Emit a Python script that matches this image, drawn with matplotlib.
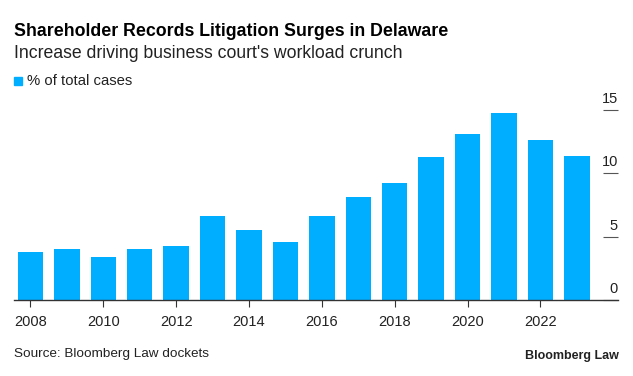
import matplotlib
matplotlib.use("Agg")
import matplotlib.pyplot as plt
import matplotlib.transforms as mtransforms
import numpy as np

# data
years = [2008, 2009, 2010, 2011, 2012, 2013, 2014, 2015,
         2016, 2017, 2018, 2019, 2020, 2021, 2022, 2023]
pct_cases = [3.8, 4.0, 3.4, 4.0, 4.3, 6.6, 5.5, 4.6,
             6.6, 8.1, 9.2, 11.3, 13.1, 14.8, 12.6, 11.4]
x_ticks = [2008, 2010, 2012, 2014, 2016, 2018, 2020, 2022]
y_ticks = [0, 5, 10, 15]

plt.rcParams['font.family'] = ['Liberation Sans', 'DejaVu Sans']
blue = '#00AEFF'
dark = '#222222'

W, H = 633, 376
fig = plt.figure(figsize=(W / 100, H / 100), dpi=100)
fig.patch.set_facecolor('white')

# axes box in pixel coords
left, right, top, bottom = 14, 618, 110, 300
ax = fig.add_axes([left / W, 1 - bottom / H, (right - left) / W, (bottom - top) / H])

ax.bar(years, pct_cases, width=0.7, color=blue, zorder=2)
ax.set_xlim(2007.55, 2024.13)
ax.set_ylim(0, 15)

for s in ['top', 'left', 'right']:
    ax.spines[s].set_visible(False)
ax.spines['bottom'].set_color('#333333')
ax.spines['bottom'].set_linewidth(1.0)
ax.spines['bottom'].set_zorder(3)

ax.set_xticks(x_ticks)
ax.set_xticklabels([str(y) for y in x_ticks])
ax.tick_params(axis='x', length=5, width=0.8, color='#333333', pad=6,
               labelsize=10.5, labelcolor=dark)

# y ticks on the right: short lines with the number sitting above them
ax.yaxis.tick_right()
ax.set_yticks(y_ticks)
ax.set_yticklabels([])
ax.tick_params(axis='y', direction='in', length=11, width=0.8, color='#555555')
trans = mtransforms.blended_transform_factory(ax.transAxes, ax.transData)
shift = mtransforms.ScaledTranslation(0, 4 / 100, fig.dpi_scale_trans)
for v in y_ticks:
    t = ax.text(1.0, v, str(v), ha='right', va='bottom',
                fontsize=10.5, color=dark, transform=trans + shift)
    t.set_clip_on(False)

# titles
fig.text(14 / W, 1 - 32 / H, 'Shareholder Records Litigation Surges in Delaware',
         fontsize=12.8, fontweight='bold', color='black', va='center', ha='left')
fig.text(14 / W, 1 - 53 / H, "Increase driving business court's workload crunch",
         fontsize=12.7, color=dark, va='center', ha='left')

# legend
fig.patches.append(plt.Rectangle((14 / W, 1 - 85 / H), 8 / W, 8 / H,
                                 transform=fig.transFigure, color=blue))
fig.text(27 / W, 1 - 81 / H, '% of total cases', fontsize=10.7, color=dark,
         va='center', ha='left')

# footer
fig.text(14 / W, 1 - 354 / H, 'Source: Bloomberg Law dockets', fontsize=9.7,
         color=dark, va='center', ha='left')
fig.text(619 / W, 1 - 356 / H, 'Bloomberg Law', fontsize=9, fontweight='bold',
         color=dark, va='center', ha='right')

fig.savefig('out.png', dpi=100)
